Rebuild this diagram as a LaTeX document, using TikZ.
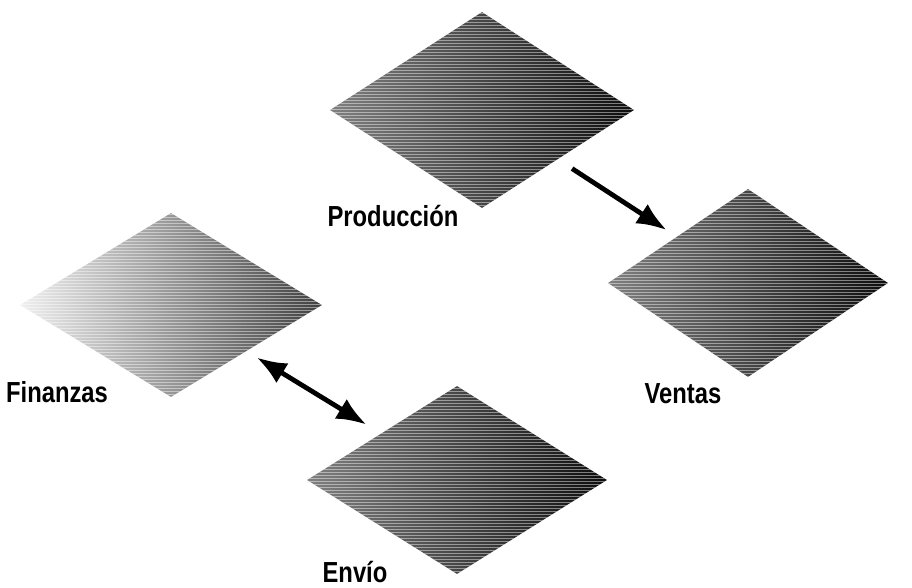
\documentclass[tikz,border=0pt]{standalone}
\usepackage{fontspec}
\newfontfamily\deptfont{Liberation Sans}[FakeStretch=0.82]
\usetikzlibrary{shapes.geometric,arrows.meta,patterns}

\begin{document}
\begin{tikzpicture}[
    x=1pt, y=-1pt,
    >=Latex,
    area/.style={
        shape=diamond,
        draw=none,
        inner sep=0pt,
        minimum width=300pt,
        minimum height=190pt,
        postaction={pattern=horizontal lines, pattern color=white, opacity=0.45}
    },
    darkarea/.style={
        area,
        left color=black!50,
        middle color=black!88,
        right color=black!95
    },
    lightarea/.style={
        area,
        left color=black!6,
        middle color=black!35,
        right color=black!75
    },
    deptname/.style={
        inner sep=0pt,
        font=\deptfont\bfseries\fontsize{29}{32}\selectfont
    },
    arrow/.style={
        line width=4.8pt,
        -{Latex[length=30pt,width=23pt]}
    },
    twoarrow/.style={
        line width=4.8pt,
        {Latex[length=30pt,width=23pt]}-{Latex[length=30pt,width=23pt]}
    }
]
\useasboundingbox (0,0) rectangle (912,587);

% AREAS
\node[darkarea, minimum width=304pt, minimum height=196pt] (prod)   at (482,110) {};
\node[darkarea, minimum width=280pt, minimum height=188pt] (ventas) at (748,283) {};
\node[lightarea, minimum width=302pt, minimum height=184pt] (fin)   at (171,305) {};
\node[darkarea, minimum width=300pt, minimum height=188pt] (envio)  at (457,480) {};

% NAMES
\node[deptname] (prodname)   at (393,216) {Producción};
\node[deptname] (ventasname) at (683,394) {Ventas};
\node[deptname] (finname)    at (57,392)  {Finanzas};
\node[deptname] (envioname)  at (355,572) {Envío};

% FLOWS
\draw[arrow, shorten <=17pt, shorten >=12pt] (prod) -- (ventas);
\draw[twoarrow, shorten <=12pt, shorten >=17pt] (fin) -- (envio);

\end{tikzpicture}
\end{document}
